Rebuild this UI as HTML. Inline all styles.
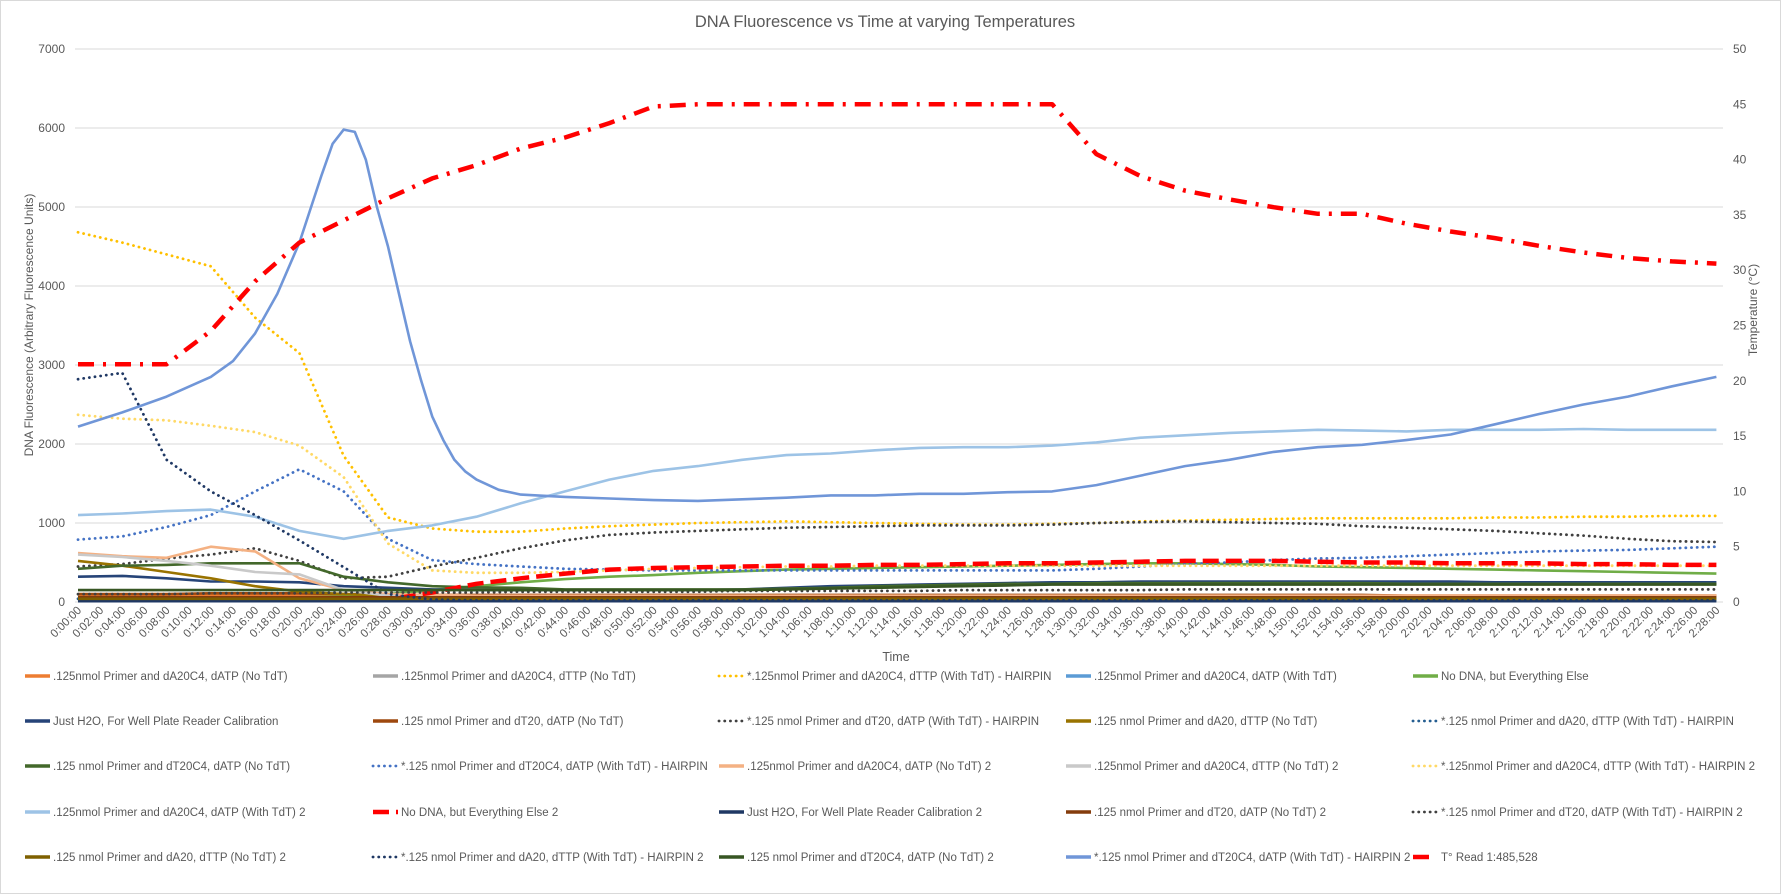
<!DOCTYPE html>
<html><head><meta charset="utf-8"><style>
html,body{margin:0;padding:0;background:#fff;}
svg{display:block;font-family:"Liberation Sans",sans-serif;}
</style></head><body>
<svg id="chart" width="1781" height="894" viewBox="0 0 1781 894">
<rect x="0.5" y="0.5" width="1780" height="893" fill="#fff" stroke="#d9d9d9"/>
<text x="885" y="27" text-anchor="middle" font-size="16.5" fill="#595959">DNA Fluorescence  vs Time at varying Temperatures</text>
<text transform="translate(33,325) rotate(-90)" text-anchor="middle" font-size="12" fill="#595959">DNA Fluorescence (Arbitrary Fluorescence Units)</text>
<text transform="translate(1757,310) rotate(-90)" text-anchor="middle" font-size="12" fill="#595959">Temperature (°C)</text>
<text x="896" y="661" text-anchor="middle" font-size="12.5" fill="#595959">Time</text>
<g id="grid"></g><g id="series"></g><g id="xlabels"></g><g id="legend"></g>
</svg>
<script>
const T = [0,4,8,12,16,20,24,28,32,36,40,44,48,52,56,60,64,68,72,76,80,84,88,92,96,100,104,108,112,116,120,124,128,132,136,140,144,148];
const T24 = [0,4,8,12,14,16,18,20,22,23,24,25,26,27,28,29,30,31,32,33,34,35,36,38,40,44,48,52,56,60,64,68,72,76,80,84,88,92,96,100,104,108,112,116,120,124,128,132,136,140,144,148];
const leftTicks = [0,1000,2000,3000,4000,5000,6000,7000];
const rightTicks = [0,5,10,15,20,25,30,35,40,45,50];
const s01 = [90,90,90,90,90,90,80,80,80,80,80,80,80,80,80,80,80,80,80,80,80,80,80,80,80,80,80,80,80,80,80,80,80,80,80,80,80,80];
const s02 = [60,60,60,60,60,60,50,50,50,50,50,50,50,50,50,50,50,50,50,50,50,50,50,50,50,50,50,50,50,50,50,50,50,50,50,50,50,50];
const s03 = [4680,4550,4400,4250,3600,3150,1850,1070,930,890,890,930,960,980,1000,1010,1020,1010,1000,990,980,980,990,1000,1020,1030,1040,1050,1060,1060,1060,1060,1070,1070,1080,1080,1090,1090];
const s04 = [20,20,20,20,20,20,20,20,20,20,20,20,20,20,20,20,20,20,20,20,20,20,20,20,20,20,20,20,20,20,20,20,20,20,20,20,20,20];
const s05 = [60,60,60,60,60,60,70,100,150,200,250,290,320,340,370,390,410,420,430,440,450,460,470,480,490,490,480,470,450,440,430,420,410,400,390,380,370,360];
const s06 = [320,330,300,260,260,250,200,180,160,150,150,150,150,150,150,160,180,200,210,220,230,240,250,250,260,260,260,260,260,260,260,260,250,250,250,250,250,250];
const s07 = [100,100,100,110,110,110,100,90,90,90,90,90,90,90,90,90,90,90,90,90,90,90,90,90,90,90,90,90,90,90,80,80,80,80,80,80,80,80];
const s08 = [450,480,550,600,680,520,300,320,450,560,680,780,850,880,900,920,940,950,960,970,970,970,980,1000,1010,1020,1010,1000,990,960,940,920,900,870,840,800,770,760];
const s09 = [520,460,380,300,200,130,100,80,70,60,60,60,60,60,60,60,60,60,60,60,60,60,60,60,60,60,60,60,60,60,60,60,60,60,60,60,60,60];
const s10 = [40,40,40,40,40,40,40,40,40,40,40,40,40,40,40,40,40,40,40,40,40,40,40,40,40,40,40,40,40,40,40,40,40,40,40,40,40,40];
const s11 = [420,460,470,490,490,490,320,250,200,185,180,160,160,160,160,160,170,180,200,210,220,230,230,240,240,240,240,240,240,240,230,230,230,230,230,230,230,230];
const s12 = [790,830,950,1100,1400,1680,1400,800,530,480,450,420,410,400,400,400,400,400,400,400,400,400,400,420,450,480,500,530,550,560,580,600,620,640,650,660,680,700];
const s13 = [620,580,560,700,640,300,150,100,90,80,80,80,80,80,80,80,80,80,80,80,80,80,80,80,80,80,80,80,80,80,80,80,80,80,80,80,80,80];
const s14 = [600,570,520,460,380,350,150,80,60,50,50,50,50,50,50,50,50,50,50,50,50,50,50,50,50,50,50,50,50,50,50,50,50,50,50,50,50,50];
const s15 = [2370,2320,2300,2230,2150,1980,1580,740,400,370,370,380,400,420,430,440,450,450,460,460,460,460,460,460,460,460,460,460,460,460,460,460,460,460,460,460,460,460];
const s16 = [1100,1120,1150,1170,1080,900,800,900,970,1080,1250,1400,1550,1660,1720,1800,1860,1880,1920,1950,1960,1960,1980,2020,2080,2110,2140,2160,2180,2170,2160,2180,2180,2180,2190,2180,2180,2180];
const s17 = [30,30,30,30,30,30,30,30,120,230,300,360,410,430,440,450,460,460,470,470,480,490,490,500,510,520,520,520,510,500,500,490,490,490,480,480,470,470];
const s18 = [10,10,10,10,10,10,10,10,10,10,10,10,10,10,10,10,10,10,10,10,10,10,10,10,10,10,10,10,10,10,10,10,10,10,10,10,10,10];
const s19 = [60,60,60,60,60,60,60,60,60,60,60,60,60,60,60,60,60,60,60,60,60,60,60,60,60,60,60,60,60,60,60,60,60,60,60,60,60,60];
const s20 = [100,100,100,110,110,110,120,120,120,120,130,130,130,130,130,140,140,140,140,140,150,150,150,150,150,160,160,160,160,160,160,160,160,160,160,160,160,160];
const s21 = [40,40,40,40,40,40,40,40,40,40,40,40,40,40,40,40,40,40,40,40,40,40,40,40,40,40,40,40,40,40,40,40,40,40,40,40,40,40];
const s22 = [2820,2900,1800,1400,1100,780,440,100,30,20,20,20,20,20,20,20,20,20,20,20,20,20,20,20,20,20,20,20,20,20,20,20,20,20,20,20,20,20];
const s23 = [150,150,150,150,150,150,150,150,150,150,150,150,150,150,150,150,160,170,180,190,200,210,220,220,220,220,220,220,220,220,220,220,220,220,220,220,220,220];
const s24 = [2220,2400,2600,2850,3050,3400,3900,4550,5400,5800,5980,5950,5600,5000,4500,3900,3300,2800,2350,2050,1800,1650,1550,1420,1360,1330,1310,1290,1280,1300,1320,1350,1350,1370,1370,1390,1400,1480,1600,1720,1800,1900,1960,1990,2050,2120,2250,2380,2500,2600,2730,2850];
const s25 = [21.5,21.5,21.5,24.5,29,32.5,34.5,36.5,38.3,39.5,41,42,43.3,44.8,45,45,45,45,45,45,45,45,45,40.5,38.5,37.2,36.4,35.7,35.1,35.1,34.2,33.5,32.9,32.2,31.6,31.1,30.8,30.6];
const labels = [".125nmol Primer and dA20C4, dATP (No TdT)",".125nmol Primer and dA20C4, dTTP (No TdT)","*.125nmol Primer and dA20C4, dTTP (With TdT) - HAIRPIN",".125nmol Primer and dA20C4, dATP (With TdT)","No DNA, but Everything Else","Just H2O, For Well Plate Reader Calibration",".125 nmol Primer and dT20, dATP (No TdT)","*.125 nmol Primer and dT20, dATP (With TdT) - HAIRPIN",".125 nmol Primer and dA20, dTTP (No TdT)","*.125 nmol Primer and dA20, dTTP (With TdT) - HAIRPIN",".125 nmol Primer and dT20C4, dATP (No TdT)","*.125 nmol Primer and dT20C4, dATP (With TdT) - HAIRPIN",".125nmol Primer and dA20C4, dATP (No TdT) 2",".125nmol Primer and dA20C4, dTTP (No TdT) 2","*.125nmol Primer and dA20C4, dTTP (With TdT) - HAIRPIN 2",".125nmol Primer and dA20C4, dATP (With TdT) 2","No DNA, but Everything Else 2","Just H2O, For Well Plate Reader Calibration 2",".125 nmol Primer and dT20, dATP (No TdT) 2","*.125 nmol Primer and dT20, dATP (With TdT) - HAIRPIN 2",".125 nmol Primer and dA20, dTTP (No TdT) 2","*.125 nmol Primer and dA20, dTTP (With TdT) - HAIRPIN 2",".125 nmol Primer and dT20C4, dATP (No TdT) 2","*.125 nmol Primer and dT20C4, dATP (With TdT) - HAIRPIN 2","T° Read 1:485,528"];
const seriesData = [s01,s02,s03,s04,s05,s06,s07,s08,s09,s10,s11,s12,s13,s14,s15,s16,s17,s18,s19,s20,s21,s22,s23,s24,s25];
const seriesTimes = [T,T,T,T,T,T,T,T,T,T,T,T,T,T,T,T,T,T,T,T,T,T,T,T24,T];

const colors = ["#ED7D31","#A5A5A5","#FFC000","#5B9BD5","#70AD47","#264478","#9E480E","#404040","#997300","#255E91","#43682B","#4472C4","#F4B183","#C9C9C9","#FFD966","#9DC3E6","#FF0000","#1F3864","#843C0C","#404040","#7F6000","#1F3864","#375623","#7096D8","#FF0000"];
const styles = ["s","s","d","s","s","s","s","d","s","d","s","d","s","s","d","s","dash","s","s","d","s","d","s","s","dd"];
const NS = "http://www.w3.org/2000/svg";
const X0 = 78, XS = 11.07, Y0 = 602, YS = 0.079, YRS = 11.06;
function xS(t){return X0 + t*XS;}
function yL(v){return Y0 - v*YS;}
function yR(v){return Y0 - v*YRS;}
function mk(tag, attrs, parent){const e=document.createElementNS(NS,tag);for(const k in attrs)e.setAttribute(k,attrs[k]);parent.appendChild(e);return e;}
function applyStyle(el, i, w){
  const st = styles[i];
  el.setAttribute('stroke', colors[i]);
  el.setAttribute('fill','none');
  el.setAttribute('stroke-linejoin','round');
  if(st==='s'){el.setAttribute('stroke-width', w||2.6);}
  else if(st==='d'){el.setAttribute('stroke-width',2.8);el.setAttribute('stroke-dasharray','0.1 5.6');el.setAttribute('stroke-linecap','round');}
  else if(st==='dash'){el.setAttribute('stroke-width',4.5);el.setAttribute('stroke-dasharray','16 7');}
  else {el.setAttribute('stroke-width',4.5);el.setAttribute('stroke-dasharray','16 9 3 9');}
}
const grid = document.getElementById('grid');
leftTicks.forEach(v=>{
  const l = mk('line',{x1:75,x2:1723,y1:yL(v),y2:yL(v),stroke:'#d9d9d9','stroke-width':1},grid);
  
  
  const t = mk('text',{x:65,y:yL(v)+4,'text-anchor':'end','font-size':12,fill:'#595959'},grid);
  t.textContent = v;
  
  
});
rightTicks.forEach(v=>{
  const t = mk('text',{x:1733,y:yR(v)+4,'text-anchor':'start','font-size':12,fill:'#595959'},grid);
  t.textContent = v;
  
  
});
const xl = document.getElementById('xlabels');
for(let m=0;m<=148;m+=2){
  const h=Math.floor(m/60), mm=m%60;
  const lab = h+':'+String(mm).padStart(2,'0')+':00';
  const x = xS(m)+4;
  const t = mk('text',{transform:'translate('+x+',611) rotate(-45)','text-anchor':'end','font-size':11.5,fill:'#595959'},xl);
  t.textContent = lab;
  
  
}
const sg = document.getElementById('series');
seriesData.forEach((arr,i)=>{
  const yf = (i===24) ? yR : yL;
  const tt = seriesTimes[i];
  const d = arr.map((v,k)=>(k?'L':'M')+xS(tt[k]).toFixed(1)+' '+yf(v).toFixed(1)).join(' ');
  const p = mk('path',{d:d},sg);
  applyStyle(p,i);
  
  
});
const lg = document.getElementById('legend');
const colX = [25,373,719,1066,1413], rowY = [676,721,766,812,857];
labels.forEach((lab,i)=>{
  const r = Math.floor(i/5), c = i%5;
  const g = mk('g',{},lg);
  
  
  const ln = mk('line',{x1:colX[c],x2:colX[c]+25,y1:rowY[r],y2:rowY[r]},g);
  applyStyle(ln,i,3.5);
  
  
  const t = mk('text',{x:colX[c]+28,y:rowY[r]+4,'font-size':11.5,fill:'#595959'},g);
  t.textContent = lab;
  
  
});
</script>
</body></html>
